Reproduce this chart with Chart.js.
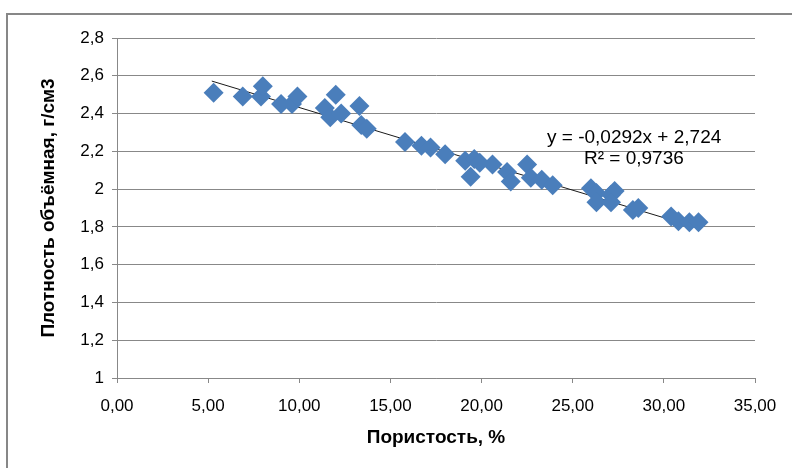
<!DOCTYPE html>
<html>
<head>
<meta charset="utf-8">
<script src="https://cdn.jsdelivr.net/npm/chart.js@4"></script>
<style>
  html, body { margin: 0; padding: 0; background: #fff; overflow: hidden; }
  #wrap { position: relative; width: 792px; height: 468px; }
  #frame { position: absolute; left: 6px; top: 13px; width: 900px; height: 600px; border: 2px solid #878787; }
  canvas { position: absolute; left: 0; top: 0; }
</style>
</head>
<body>
<div id="wrap">
  <div id="frame"></div>
  <canvas id="chart" width="792" height="468"></canvas>
</div>
<script>
// porosity, % (x) and bulk density, g/cm3 (y)
const porosity = [5.3, 6.9, 7.9, 8.0, 9.0, 9.6, 9.9, 11.4, 11.7, 12.0, 12.3, 13.3, 13.4, 13.7,
                  15.8, 16.7, 17.2, 18.0, 19.1, 19.4, 19.6, 19.9, 20.6, 21.4, 21.6, 22.5, 22.7,
                  23.3, 23.9, 26.0, 26.3, 26.3, 27.1, 27.3, 27.1, 28.3, 28.6, 30.4, 30.8, 31.4, 31.9];
const density = [2.51, 2.49, 2.49, 2.545, 2.45, 2.45, 2.49, 2.43, 2.38, 2.50, 2.40, 2.44, 2.34, 2.32,
                 2.25, 2.23, 2.22, 2.185, 2.15, 2.065, 2.16, 2.14, 2.13, 2.09, 2.04, 2.13, 2.06,
                 2.05, 2.02, 2.005, 1.98, 1.93, 1.97, 1.99, 1.93, 1.89, 1.90, 1.855, 1.83, 1.825, 1.825];
// linear trendline ends
const trendX = [5.2, 31.9];
const trendY = [2.572, 1.793];
const trendLabel = ['y = -0,0292x + 2,724', 'R\u00b2 = 0,9736'];

const xTitle = 'Пористость, %';
const yTitle = 'Плотность объёмная, г/см3';

const gray = '#888888';
const font = 'Liberation Sans';

const labelPlugin = {
  id: 'trendLabel',
  afterDraw(chart) {
    const ctx = chart.ctx;
    ctx.save();
    ctx.fillStyle = '#000';
    ctx.font = '19px "' + font + '"';
    ctx.textBaseline = 'middle';
    ctx.textAlign = 'left';
    ctx.fillText(trendLabel[0], 547, 138);
    ctx.fillText(trendLabel[1], 584, 159);
    ctx.restore();
  }
};

new Chart(document.getElementById('chart'), {
  type: 'scatter',
  data: {
    datasets: [
      {
        label: 'points',
        data: porosity.map((x, i) => ({ x: x, y: density[i] })),
        pointStyle: 'rectRot',
        pointRadius: 10,
        backgroundColor: '#4A7EBB',
        borderColor: '#4A7EBB',
        borderWidth: 0
      },
      {
        label: 'trend',
        type: 'line',
        data: trendX.map((x, i) => ({ x: x, y: trendY[i] })),
        borderColor: '#1a1a1a',
        borderWidth: 1,
        pointRadius: 0,
        fill: false
      }
    ]
  },
  options: {
    responsive: false,
    animation: false,
    layout: { padding: { left: 33, top: 38, right: 37, bottom: 15 } },
    plugins: { legend: { display: false }, tooltip: { enabled: false } },
    scales: {
      x: {
        type: 'linear',
        min: 0, max: 35,
        afterFit(s) { s.height = 75; },
        ticks: {
          stepSize: 5,
          padding: 13,
          color: '#000',
          font: { family: font, size: 17 },
          callback: v => v.toFixed(2).replace('.', ',')
        },
        grid: { drawOnChartArea: false, drawTicks: true, tickLength: 5, color: gray },
        border: { color: gray, width: 1 },
        title: {
          display: true, text: xTitle, color: '#000',
          font: { family: font, size: 19, weight: 'bold' }
        }
      },
      y: {
        min: 1, max: 2.8,
        afterFit(s) { s.width = 84; },
        ticks: {
          stepSize: 0.2,
          padding: 8,
          color: '#000',
          font: { family: font, size: 17 },
          callback: v => String(Number(v.toFixed(1))).replace('.', ',')
        },
        grid: { color: gray, tickLength: 5, lineWidth: 1 },
        border: { color: gray, width: 1 },
        title: {
          display: true, text: yTitle, color: '#000',
          font: { family: font, size: 19, weight: 'bold' }
        }
      }
    }
  },
  plugins: [labelPlugin]
});
</script>
</body>
</html>
